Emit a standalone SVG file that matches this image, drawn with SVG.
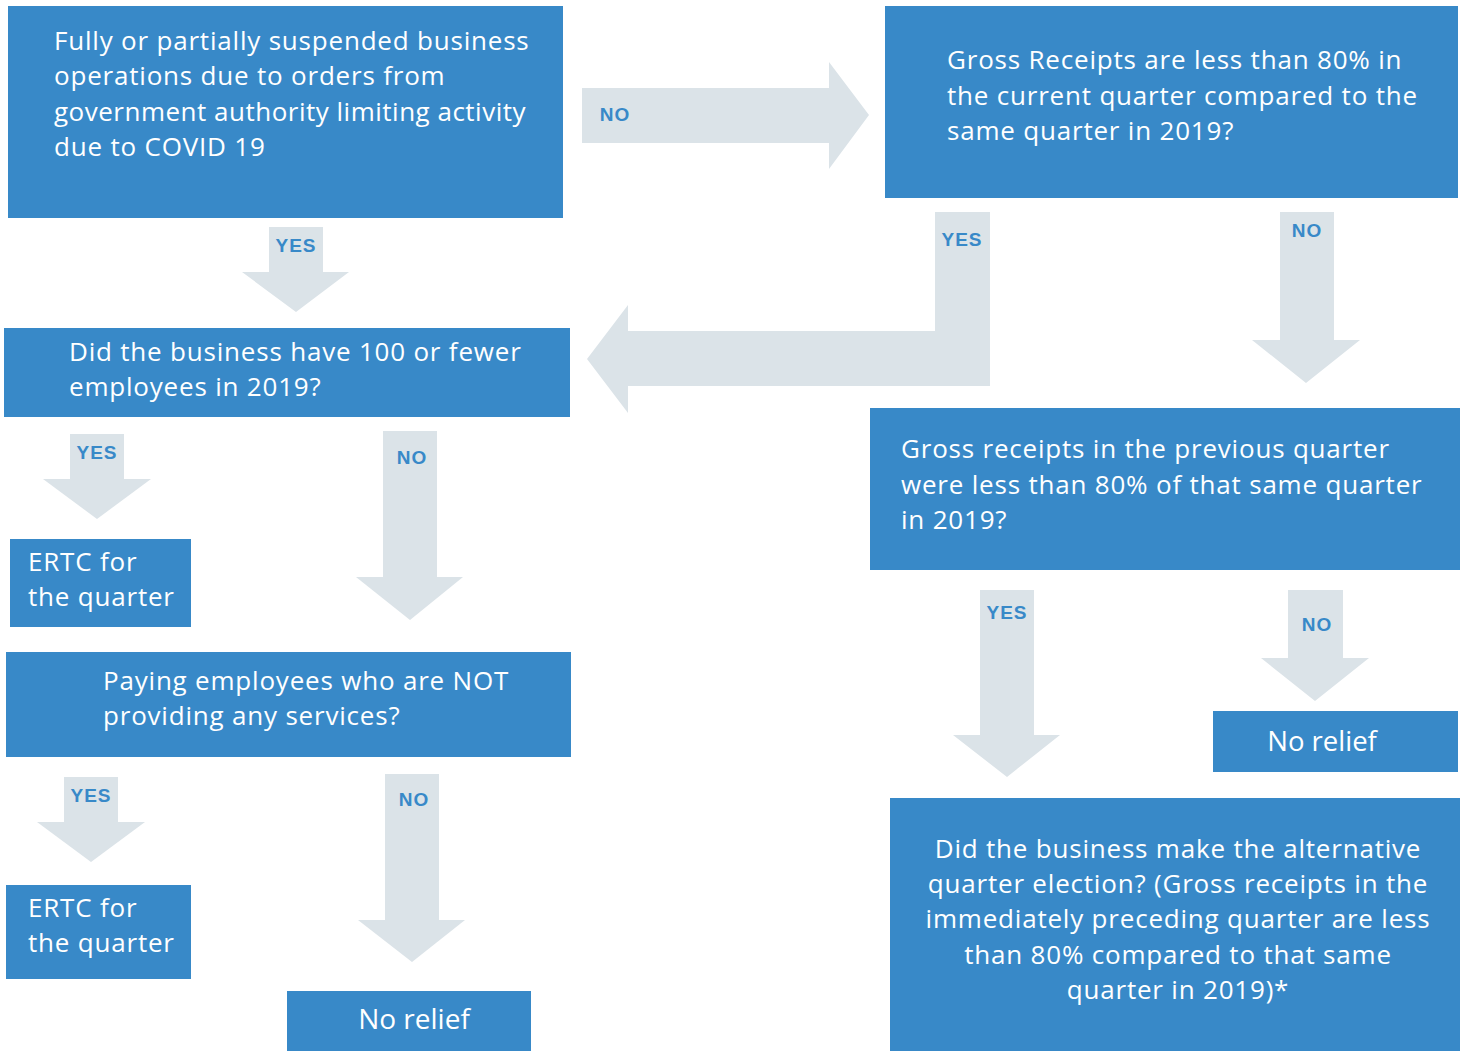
<svg xmlns="http://www.w3.org/2000/svg" width="1468" height="1053" viewBox="0 0 1468 1053">
<style>
.box{fill:#3889c8}
.arr{fill:#dbe3e8}
.t{font-family:"Open Sans","Liberation Sans",Arial,sans-serif;font-size:26px;letter-spacing:0.8px;fill:#ffffff}
.tc{font-family:"Open Sans","Liberation Sans",Arial,sans-serif;font-size:26px;letter-spacing:0.8px;fill:#ffffff;text-anchor:middle}
.lb{font-family:"Liberation Sans",Arial,sans-serif;font-size:19px;font-weight:bold;fill:#3889c8;text-anchor:middle;letter-spacing:1px}
</style>
<rect width="1468" height="1053" fill="#ffffff"/>
<g id="connectors">
  <polygon class="arr" points="582,88 829,88 829,62 869,115 829,169 829,143 582,143"/>
  <polygon class="arr" points="935,212 990,212 990,386 628,386 628,413 587,359 628,305 628,331 935,331"/>
  <polygon class="arr" points="1280,212 1334,212 1334,340 1360,340 1306,383 1252,340 1280,340"/>
  <polygon class="arr" points="269,227 323,227 323,272 349,272 296,312 242,272 269,272"/>
  <polygon class="arr" points="70,434 124,434 124,479 151,479 97,519 43,479 70,479"/>
  <polygon class="arr" points="383,431 437,431 437,577 463,577 410,620 356,577 383,577"/>
  <polygon class="arr" points="64,777 118,777 118,822 145,822 91,862 37,822 64,822"/>
  <polygon class="arr" points="385,774 439,774 439,920 465,920 412,962 358,920 385,920"/>
  <polygon class="arr" points="980,590 1034,590 1034,735 1060,735 1007,777 953,735 980,735"/>
  <polygon class="arr" points="1288,590 1343,590 1343,658 1369,658 1315,701 1261,658 1288,658"/>
  <text class="lb" x="615" y="121">NO</text>
  <text class="lb" x="962" y="246">YES</text>
  <text class="lb" x="1307" y="237">NO</text>
  <text class="lb" x="296" y="252">YES</text>
  <text class="lb" x="97" y="459">YES</text>
  <text class="lb" x="412" y="464">NO</text>
  <text class="lb" x="91" y="802">YES</text>
  <text class="lb" x="414" y="806">NO</text>
  <text class="lb" x="1007" y="619">YES</text>
  <text class="lb" x="1317" y="631">NO</text>
</g>
<g id="n1">
  <rect class="box" x="8" y="6" width="555" height="212"/>
  <text class="t" x="54" y="50">Fully or partially suspended business</text>
  <text class="t" x="54" y="85">operations due to orders from</text>
  <text class="t" x="54" y="121" style="letter-spacing:0.5px">government authority limiting activity</text>
  <text class="t" x="54" y="156">due to COVID 19</text>
</g>
<g id="n2">
  <rect class="box" x="885" y="6" width="573" height="192"/>
  <text class="t" x="947" y="69">Gross Receipts are less than 80% in</text>
  <text class="t" x="947" y="105">the current quarter compared to the</text>
  <text class="t" x="947" y="140">same quarter in 2019?</text>
</g>
<g id="n3">
  <rect class="box" x="4" y="328" width="566" height="89"/>
  <text class="t" x="69" y="361">Did the business have 100 or fewer</text>
  <text class="t" x="69" y="396">employees in 2019?</text>
</g>
<g id="n4">
  <rect class="box" x="10" y="539" width="181" height="88"/>
  <text class="t" x="28" y="571">ERTC for</text>
  <text class="t" x="28" y="606">the quarter</text>
</g>
<g id="n5">
  <rect class="box" x="6" y="652" width="565" height="105"/>
  <text class="t" x="103" y="690">Paying employees who are NOT</text>
  <text class="t" x="103" y="725">providing any services?</text>
</g>
<g id="n6">
  <rect class="box" x="6" y="885" width="185" height="94"/>
  <text class="t" x="28" y="917">ERTC for</text>
  <text class="t" x="28" y="952">the quarter</text>
</g>
<g id="n7">
  <rect class="box" x="287" y="991" width="244" height="60"/>
  <text class="tc" x="414" y="1029" style="font-size:28px;letter-spacing:0">No relief</text>
</g>
<g id="n8">
  <rect class="box" x="870" y="408" width="590" height="162"/>
  <text class="t" x="901" y="458">Gross receipts in the previous quarter</text>
  <text class="t" x="901" y="494">were less than 80% of that same quarter</text>
  <text class="t" x="901" y="529">in 2019?</text>
</g>
<g id="n9">
  <rect class="box" x="1213" y="711" width="245" height="61"/>
  <text class="tc" x="1322" y="751" style="font-size:27.5px;letter-spacing:0">No relief</text>
</g>
<g id="n10">
  <rect class="box" x="890" y="798" width="570" height="253"/>
  <text class="tc" x="1178" y="858">Did the business make the alternative</text>
  <text class="tc" x="1178" y="893">quarter election? (Gross receipts in the</text>
  <text class="tc" x="1178" y="928">immediately preceding quarter are less</text>
  <text class="tc" x="1178" y="964">than 80% compared to that same</text>
  <text class="tc" x="1178" y="999">quarter in 2019)*</text>
</g>
</svg>
